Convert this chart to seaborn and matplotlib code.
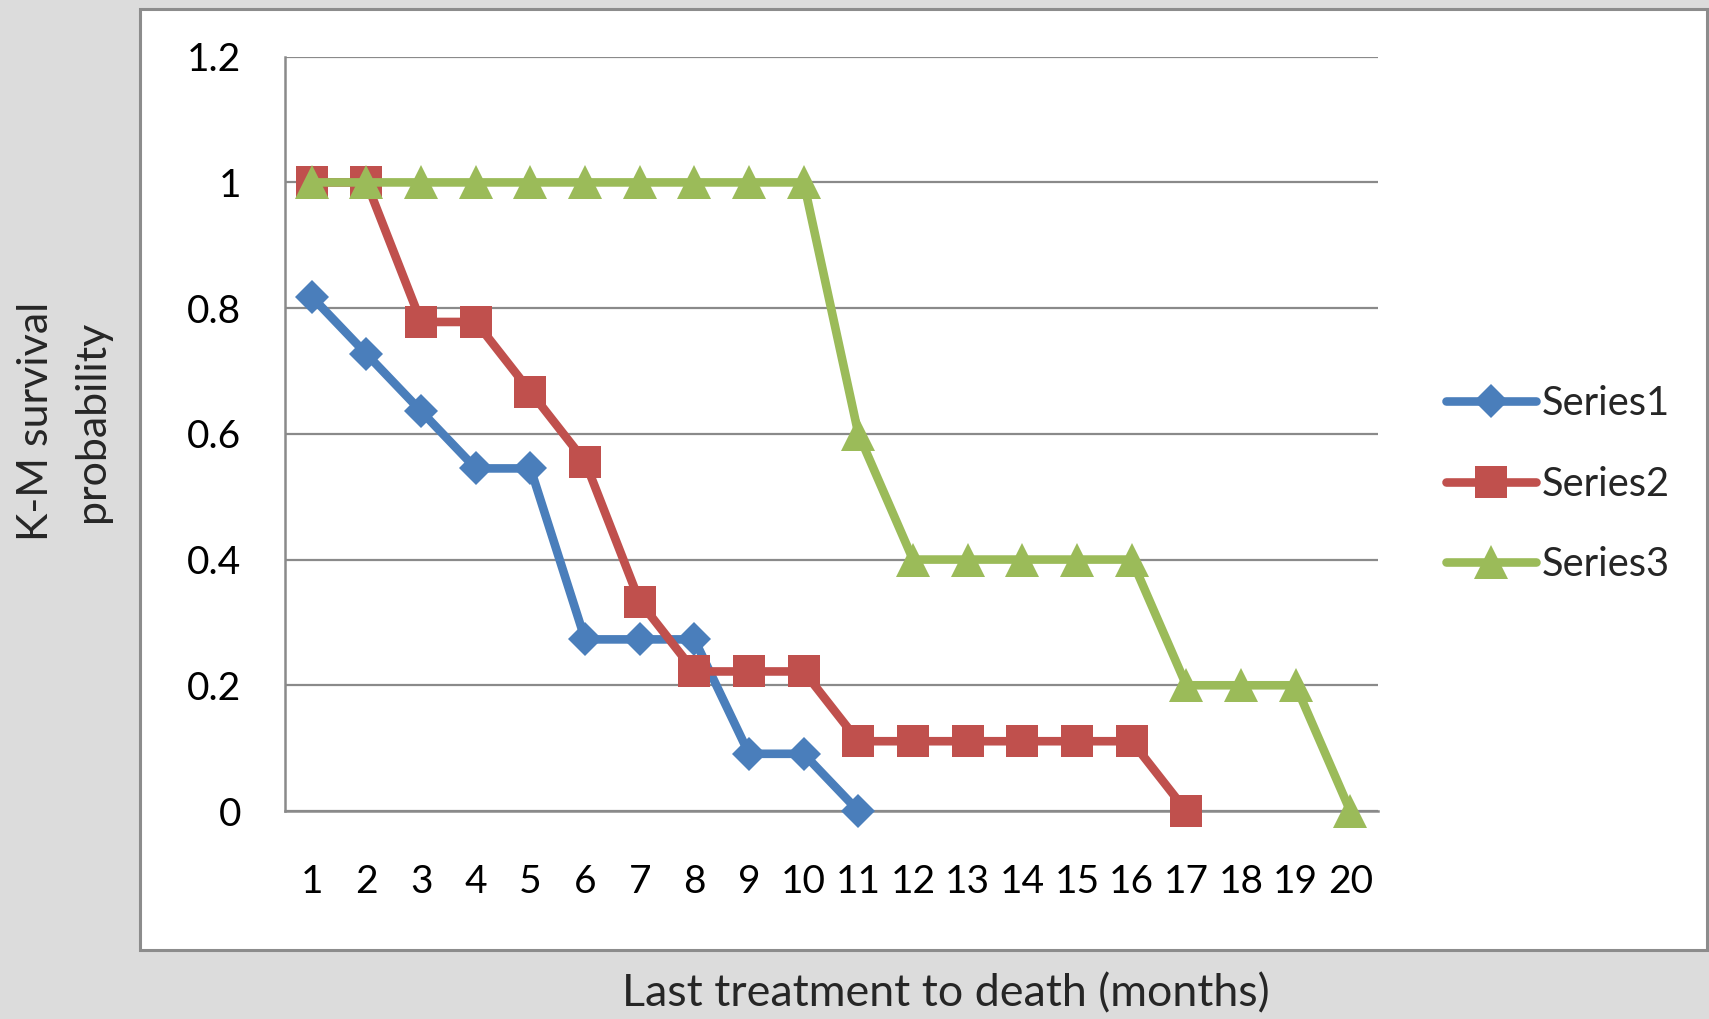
import numpy as np
import pandas as pd
import seaborn as sns
import matplotlib.pyplot as plt
from matplotlib.patches import Rectangle
from matplotlib.ticker import FixedLocator

sns.set_style("white")
plt.rcParams['font.family'] = ['Lato', 'DejaVu Sans']

# ------------ DATA ------------ #
months = list(range(1, 21))
series1 = [0.818, 0.727, 0.636, 0.545, 0.545, 0.273, 0.273, 0.273, 0.091, 0.091, 0.0]
series2 = [1.0, 1.0, 0.778, 0.778, 0.667, 0.556, 0.333, 0.222, 0.222, 0.222,
           0.111, 0.111, 0.111, 0.111, 0.111, 0.111, 0.0]
series3 = [1.0, 1.0, 1.0, 1.0, 1.0, 1.0, 1.0, 1.0, 1.0, 1.0,
           0.6, 0.4, 0.4, 0.4, 0.4, 0.4, 0.2, 0.2, 0.2, 0.0]
series_names = ['Series1', 'Series2', 'Series3']
y_ticks = [0, 0.2, 0.4, 0.6, 0.8, 1.0, 1.2]
y_ticklabels = ['0', '0.2', '0.4', '0.6', '0.8', '1', '1.2']

colors = ['#4a7ebb', '#c0504d', '#9bbb59']
markers = ['D', 's', '^']
msizes = [17, 23.5, 24]

grey = '#8a8a8a'
fs = 28

fig = plt.figure(figsize=(17.09, 10.19), dpi=100, facecolor='#dcdcdc')
# white chart box on the grey page
fig.patches.append(Rectangle((140 / 1709, 1 - 950 / 1019), (1707 - 140) / 1709, (950 - 9) / 1019,
                             transform=fig.transFigure, facecolor='white',
                             edgecolor='#8c8c8c', lw=2.2, zorder=-5))

ax = fig.add_axes([284.5 / 1709, 1 - 811 / 1019, (1377.6 - 284.5) / 1709, (811 - 56.7) / 1019])
ax.set_facecolor('white')

for name, vals, c, m, ms in zip(series_names, [series1, series2, series3], colors, markers, msizes):
    df = pd.DataFrame({'month': months[:len(vals)], 'prob': vals})
    sns.lineplot(data=df, x='month', y='prob', ax=ax, color=c, marker=m, markersize=ms,
                 markeredgewidth=0, linewidth=6.2, label=name, clip_on=False,
                 errorbar=None, solid_capstyle='round', zorder=3)

ax.set_xlim(0.5, 20.5)
ax.set_ylim(0, 1.2)
ax.set_xticks(months)
ax.set_xticklabels([str(m) for m in months])
ax.xaxis.set_minor_locator(FixedLocator([m - 0.5 for m in months] + [20.5]))
ax.set_yticks(y_ticks)
ax.set_yticklabels(y_ticklabels)

ax.tick_params(axis='x', which='major', length=0, pad=38, labelsize=fs, labelcolor='black')
ax.tick_params(axis='x', which='minor', length=10, width=1.8, color=grey, direction='out')
ax.tick_params(axis='y', length=11, width=1.8, color=grey, pad=20, labelsize=fs, labelcolor='black')

ax.grid(axis='y', color=grey, lw=1.6)
ax.set_axisbelow(True)
for s in ['top', 'right']:
    ax.spines[s].set_visible(False)
for s in ['left', 'bottom']:
    ax.spines[s].set_color(grey)
    ax.spines[s].set_linewidth(1.8)

ax.set_xlabel('')
ax.set_ylabel('')
fig.text(946 / 1709, 1 - 994 / 1019, 'Last treatment to death (months)', fontsize=32.2,
         ha='center', va='center')
fig.text(64 / 1709, 1 - 421 / 1019, 'K-M survival\nprobability', fontsize=31,
         ha='center', va='center', rotation=90, linespacing=1.55)

leg = ax.legend(loc='center left', bbox_to_anchor=(1446 / 1709, 1 - 484 / 1019),
                bbox_transform=fig.transFigure, frameon=False, fontsize=28.7,
                borderpad=0, borderaxespad=0, handlelength=2.25, handletextpad=0.15,
                labelspacing=1.08)

plt.savefig('out.png', dpi=100, facecolor=fig.get_facecolor())
